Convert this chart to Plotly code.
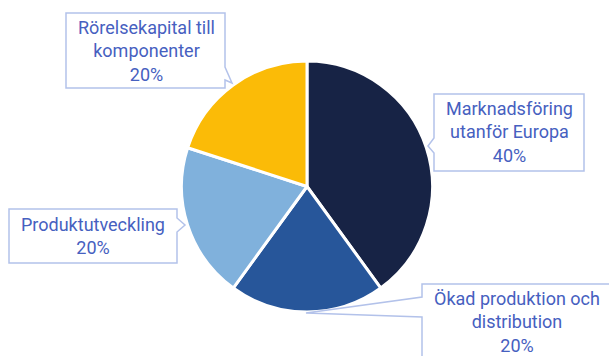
import plotly.graph_objects as go

labels = ["Marknadsföring utanför Europa", "Ökad produktion och distribution",
          "Produktutveckling", "Rörelsekapital till komponenter"]
label_lines = ["Marknadsföring<br>utanför Europa", "Ökad produktion och<br>distribution",
               "Produktutveckling", "Rörelsekapital till<br>komponenter"]
values = [40, 20, 20, 20]
colors = ["#172345", "#27569a", "#80b1dc", "#fbbb07"]

W, H = 609, 356
CX, CY, R = 307, 186.5, 125.5

def px(x):
    return x / W

def py(y):
    return 1 - y / H

fig = go.Figure(go.Pie(
    labels=labels, values=values, sort=False, direction="clockwise", rotation=0,
    marker=dict(colors=colors, line=dict(color="white", width=3)),
    textinfo="none", hoverinfo="label+percent",
    domain=dict(x=[px(CX - R), px(CX + R)], y=[py(CY + R), py(CY - R)]),
    showlegend=False,
))

def path(points):
    s = "M " + " L ".join(f"{px(x):.5f},{py(y):.5f}" for x, y in points) + " Z"
    return s

# callout outlines (box + pointer), pixel coords
callouts = [
    [(434, 94), (584, 94), (584, 171), (434, 171), (434, 153), (428, 146), (434, 138)],
    [(422, 284), (614, 284), (614, 362), (422, 362), (422, 317), (306, 313), (422, 297)],
    [(9, 209), (177, 209), (177, 218), (185, 225), (177, 232), (177, 263), (9, 263)],
    [(66, 13), (225, 13), (225, 67), (232, 83), (225, 80), (225, 88), (66, 88)],
]
text_pos = [(509, 132.5), (516.5, 322), (93, 236), (146, 50.5)]

shapes = []
for pts in callouts:
    shapes.append(dict(type="path", xref="paper", yref="paper", path=path(pts),
                       fillcolor="white", line=dict(color="#b3c2ea", width=1.5)))

annotations = []
for (tx, ty), name, v in zip(text_pos, label_lines, values):
    annotations.append(dict(
        x=px(tx), y=py(ty), xref="paper", yref="paper", showarrow=False,
        xanchor="center", yanchor="middle", align="center",
        text=f"{name}<br>{v}%",
        font=dict(family="Roboto", size=18, color="#4660c0"),
    ))

fig.update_layout(
    width=W, height=H, margin=dict(l=0, r=0, t=0, b=0),
    paper_bgcolor="white", plot_bgcolor="white",
    shapes=shapes, annotations=annotations,
)

fig.write_html("out.html")
